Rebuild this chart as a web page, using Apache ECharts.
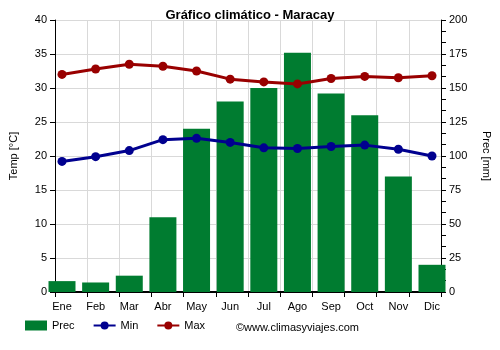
<!DOCTYPE html>
<html>
<head>
<meta charset="utf-8">
<script src="https://cdn.jsdelivr.net/npm/echarts@6/dist/echarts.min.js"></script>
<style>
  html, body { margin: 0; padding: 0; background: #fff; }
  #chart { width: 500px; height: 350px; }
</style>
</head>
<body>
<div id="chart"></div>
<script>
// Monthly climate data for Maracay
const months = ['Ene', 'Feb', 'Mar', 'Abr', 'May', 'Jun', 'Jul', 'Ago', 'Sep', 'Oct', 'Nov', 'Dic'];
const precip = [8, 7, 12, 55, 120, 140, 150, 176, 146, 130, 85, 20];
const tempMin = [19.2, 19.9, 20.8, 22.4, 22.6, 22.0, 21.2, 21.1, 21.4, 21.6, 21.0, 20.0];
const tempMax = [32.0, 32.8, 33.5, 33.2, 32.5, 31.3, 30.9, 30.6, 31.4, 31.7, 31.5, 31.8];

const font = 'Liberation Sans, Arial, sans-serif';
const chart = echarts.init(document.getElementById('chart'), null, { renderer: 'canvas' });

const gridTop = 20, gridBottom = 58;

chart.setOption({
  animation: false,
  textStyle: { fontFamily: font },
  title: {
    text: 'Gráfico climático - Maracay',
    left: 'center',
    top: 4,
    textStyle: { fontSize: 13, fontWeight: 'bold', color: '#000', fontFamily: font }
  },
  // grid 0: frame with axes, ticks and grid lines; grid 1: where the marks are placed
  grid: [
    { left: 49, right: 55, top: gridTop, bottom: gridBottom },
    { left: 62, right: 68, top: gridTop, bottom: gridBottom }
  ],
  legend: {
    bottom: 14,
    left: 20,
    itemGap: 18,
    itemWidth: 22,
    itemHeight: 10,
    textStyle: { fontSize: 11, color: '#000', fontFamily: font },
    data: [
      { name: 'Prec', icon: 'rect' },
      { name: 'Min' },
      { name: 'Max' }
    ]
  },
  graphic: [{
    type: 'text',
    left: 236,
    bottom: 17,
    style: { text: '©www.climasyviajes.com', fontSize: 11, fill: '#000', fontFamily: font }
  }],
  xAxis: [
    {
      gridIndex: 0,
      type: 'category',
      data: months,
      boundaryGap: true,
      axisLine: { lineStyle: { color: '#000', width: 2 } },
      axisTick: { show: true, lineStyle: { color: '#000' } },
      axisLabel: { show: false },
      splitLine: { show: true, lineStyle: { color: '#d9d9d9' } }
    },
    {
      gridIndex: 1,
      type: 'category',
      data: months,
      boundaryGap: false,
      axisLine: { show: false },
      axisTick: { show: false },
      axisLabel: { fontSize: 11, color: '#000', margin: 9 },
      splitLine: { show: false }
    }
  ],
  yAxis: [
    {
      gridIndex: 0,
      type: 'value',
      min: 0, max: 40, interval: 5,
      name: 'Temp [°C]',
      nameLocation: 'middle',
      nameGap: 36,
      nameRotate: 90,
      nameTextStyle: { fontSize: 11, color: '#000' },
      axisLine: { show: true, lineStyle: { color: '#000' } },
      axisTick: { show: true, lineStyle: { color: '#000' } },
      axisLabel: { fontSize: 11, color: '#000' },
      splitLine: { show: true, lineStyle: { color: '#d9d9d9' } }
    },
    {
      gridIndex: 0,
      type: 'value',
      position: 'right',
      min: 0, max: 200, interval: 25,
      name: 'Prec [mm]',
      nameLocation: 'middle',
      nameGap: 40,
      nameRotate: -90,
      nameTextStyle: { fontSize: 11, color: '#000' },
      axisLine: { show: true, lineStyle: { color: '#000' } },
      axisTick: { show: true, length: 5, lineStyle: { color: '#000' } },
      minorTick: { show: true, splitNumber: 3, length: 5, lineStyle: { color: '#000' } },
      axisLabel: { fontSize: 11, color: '#000' },
      splitLine: { show: false }
    },
    {
      gridIndex: 1,
      type: 'value',
      min: 0, max: 40, interval: 5,
      show: false
    },
    {
      gridIndex: 1,
      type: 'value',
      position: 'right',
      min: 0, max: 200, interval: 25,
      show: false
    }
  ],
  series: [
    {
      name: 'Prec',
      type: 'bar',
      xAxisIndex: 1,
      yAxisIndex: 3,
      data: precip,
      barWidth: 27,
      itemStyle: { color: '#007c30' }
    },
    {
      name: 'Min',
      type: 'line',
      xAxisIndex: 1,
      yAxisIndex: 2,
      data: tempMin,
      symbol: 'circle',
      symbolSize: 9,
      lineStyle: { color: '#00008f', width: 3 },
      itemStyle: { color: '#00008f' }
    },
    {
      name: 'Max',
      type: 'line',
      xAxisIndex: 1,
      yAxisIndex: 2,
      data: tempMax,
      symbol: 'circle',
      symbolSize: 9,
      lineStyle: { color: '#990000', width: 3 },
      itemStyle: { color: '#990000' }
    }
  ]
});
</script>
</body>
</html>
